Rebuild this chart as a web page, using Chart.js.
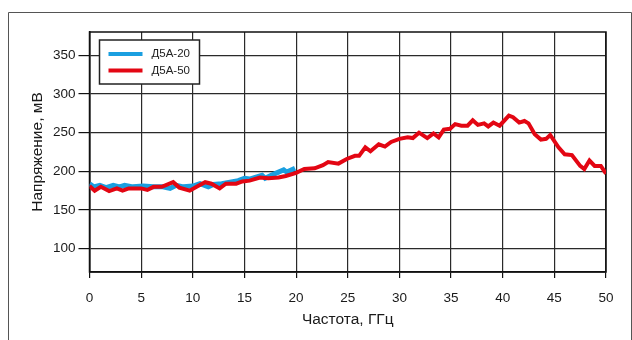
<!DOCTYPE html>
<html>
<head>
<meta charset="utf-8">
<script src="https://cdn.jsdelivr.net/npm/chart.js@4.4.1/dist/chart.umd.min.js"></script>
<style>
  body { margin: 0; background: #fff; }
  canvas { display: block; }
</style>
</head>
<body>
<canvas id="chart" width="632" height="340"></canvas>
<script>
// Д5А-20 (blue), 0..20 GHz
const blueX = [0, 0.4, 1.0, 1.6, 2.3, 2.9, 3.4, 4.2, 5.2, 6.2, 7.1, 7.8, 8.4, 9.1, 10.0, 10.7, 11.5, 12.0, 12.8, 13.6, 14.4, 15.0, 15.5, 16.2, 16.7, 17.0, 17.6, 18.3, 18.8, 19.1, 19.9];
const blueY = [184, 180, 182, 179, 182, 180, 182, 180, 181, 180, 180, 178, 182, 180, 181, 184, 180, 183, 184, 186, 188, 191, 190, 193, 195, 191, 195, 199, 202, 199, 204];

// Д5А-50 (red), 0..50 GHz
const redX = [0, 0.5, 1.1, 1.9, 2.65, 3.2, 3.8, 5, 5.6, 6.2, 7, 8.1, 8.7, 9.7, 10.5, 11.2, 11.8, 12.6, 13.2, 14.2,
  14.8, 15.5, 16.5, 17.3, 18.3, 19, 20, 20.8, 21.8, 22.6, 23.1, 24.1, 24.9, 25.7, 26.1, 26.7, 27.2, 28, 28.6, 29.2,
  30, 30.8, 31.3, 31.9, 32.7, 33.3, 33.8, 34.3, 34.9, 35.4, 36, 36.6, 37.1, 37.6, 38.2, 38.6, 39.1, 39.7, 40.6, 41,
  41.6, 42.1, 42.5, 43.1, 43.7, 44.2, 44.6, 45.4, 46, 46.7, 47.5, 47.9, 48.4, 48.9, 49.5, 50];
const redY = [181, 175, 180, 174.5, 178, 175, 178, 178, 176, 180, 180, 186, 179, 175, 181, 186, 184, 178, 184, 184,
  187, 188, 192, 191, 192, 194, 198, 203, 204, 208, 212, 210, 216, 220, 220, 231, 226, 235, 232, 238,
  242, 244, 243, 250, 243, 249, 244, 254, 255, 261, 259, 259, 266, 260, 262, 258, 263, 259, 272, 270,
  263, 265, 262, 248, 241, 242, 247, 231, 222, 221, 207, 203, 214, 207, 207, 197];

const yTicks = [100, 150, 200, 250, 300, 350];
const xTicks = [0, 5, 10, 15, 20, 25, 30, 35, 40, 45, 50];

const seriesLabels = ['Д5А-20', 'Д5А-50'];
const seriesColors = ['#1a9fe0', '#e30613'];

function pairs(xs, ys) {
    return xs.map((x, i) => ({ x: x, y: ys[i] }));
}

const fontFamily = '"Liberation Sans", Arial, sans-serif';

// outer frame, plot border and the inset legend
const decorPlugin = {
    id: 'decor',
    beforeDraw(chart) {
        const ctx = chart.ctx;
        ctx.save();
        ctx.strokeStyle = '#555';
        ctx.lineWidth = 1;
        ctx.beginPath();
        ctx.moveTo(8.5, 340);
        ctx.lineTo(8.5, 12.5);
        ctx.lineTo(631.5, 12.5);
        ctx.lineTo(631.5, 340);
        ctx.stroke();
        ctx.restore();
    },
    beforeDatasetsDraw(chart) {
        const ctx = chart.ctx;
        const a = chart.chartArea;
        ctx.save();
        ctx.strokeStyle = '#111';
        ctx.lineWidth = 1.5;
        ctx.strokeRect(a.left, a.top, a.right - a.left, a.bottom - a.top);
        ctx.restore();
    },
    afterDatasetsDraw(chart) {
        const ctx = chart.ctx;
        const a = chart.chartArea;
        const bx = a.left + 10, by = a.top + 8, bw = 100, bh = 44;
        ctx.save();
        ctx.fillStyle = '#fff';
        ctx.fillRect(bx, by, bw, bh);
        ctx.strokeStyle = '#222';
        ctx.lineWidth = 1.5;
        ctx.strokeRect(bx, by, bw, bh);
        ctx.font = '11.5px ' + fontFamily;
        ctx.textBaseline = 'middle';
        chart.data.datasets.forEach((ds, i) => {
            const ly = by + 14 + i * 16.5;
            ctx.strokeStyle = ds.borderColor;
            ctx.lineWidth = 4;
            ctx.beginPath();
            ctx.moveTo(bx + 9, ly);
            ctx.lineTo(bx + 43, ly);
            ctx.stroke();
            ctx.fillStyle = '#222';
            ctx.fillText(ds.label, bx + 52, ly);
        });
        ctx.restore();
    }
};

new Chart(document.getElementById('chart'), {
    type: 'line',
    data: {
        datasets: [{
            label: seriesLabels[0],
            data: pairs(blueX, blueY),
            borderColor: seriesColors[0],
            borderWidth: 5,
            pointRadius: 0,
            tension: 0,
            order: 1
        }, {
            label: seriesLabels[1],
            data: pairs(redX, redY),
            borderColor: seriesColors[1],
            borderWidth: 4,
            pointRadius: 0,
            tension: 0,
            order: 0
        }]
    },
    options: {
        responsive: false,
        devicePixelRatio: 1,
        animation: false,
        layout: { padding: { top: 32, right: 26, left: 0, bottom: 0 } },
        plugins: {
            legend: { display: false },
            tooltip: { enabled: false }
        },
        scales: {
            x: {
                type: 'linear',
                min: 0,
                max: 50,
                afterBuildTicks: axis => { axis.ticks = xTicks.map(v => ({ value: v })); },
                afterFit: axis => { axis.height = 68; },
                grid: { color: '#2a2a2a', lineWidth: 1.2, tickLength: 6, tickColor: '#111' },
                border: { color: '#111', width: 1.5 },
                ticks: { color: '#1a1a1a', padding: 12, maxRotation: 0, font: { family: fontFamily, size: 13.5 } },
                title: {
                    display: true,
                    text: 'Частота, ГГц',
                    color: '#1a1a1a',
                    font: { family: fontFamily, size: 15.5 },
                    padding: { top: 0, bottom: 11 }
                }
            },
            y: {
                min: 70,
                max: 380,
                afterBuildTicks: axis => { axis.ticks = yTicks.map(v => ({ value: v })); },
                afterFit: axis => { axis.width = 89.5; },
                grid: { color: '#2a2a2a', lineWidth: 1.2, tickLength: 11, tickColor: '#111' },
                border: { color: '#111', width: 1.5 },
                ticks: { color: '#1a1a1a', padding: 3, font: { family: fontFamily, size: 13.5 } },
                title: {
                    display: true,
                    text: 'Напряжение, мВ',
                    color: '#1a1a1a',
                    font: { family: fontFamily, size: 15.5 },
                    padding: { top: 28, bottom: 0 }
                }
            }
        }
    },
    plugins: [decorPlugin]
});
</script>
</body>
</html>
